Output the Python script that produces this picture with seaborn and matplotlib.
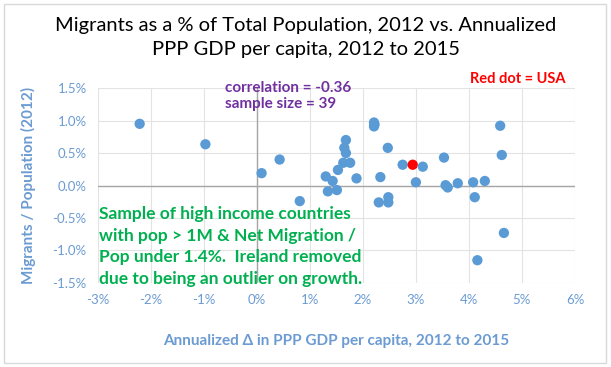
import pandas as pd
import seaborn as sns
import matplotlib.pyplot as plt
from matplotlib.patches import Rectangle
from matplotlib.ticker import FuncFormatter

# Annualized change in PPP GDP per capita 2012-2015 (%) and migrants / population 2012 (%)
gdp_growth = [-2.21, -0.97, 0.09, 0.43, 0.81,
              1.30, 1.34, 1.43, 1.51, 1.53, 1.63, 1.65, 1.68, 1.68, 1.76, 1.88,
              2.21, 2.21, 2.22, 2.33, 2.30, 2.47, 2.48, 2.48, 2.75, 2.94, 3.00, 3.13,
              3.53, 3.56, 3.60, 3.79, 4.08, 4.11, 4.30, 4.59, 4.62, 4.66, 4.16]
migrants = [0.95, 0.635, 0.19, 0.40, -0.24,
            0.14, -0.09, 0.07, -0.07, 0.24, 0.35, 0.58, 0.70, 0.50, 0.35, 0.11,
            0.97, 0.91, 0.94, 0.13, -0.26, 0.58, -0.18, -0.26, 0.32, 0.32, 0.05, 0.29,
            0.43, 0.005, -0.03, 0.035, 0.05, -0.18, 0.07, 0.92, 0.47, -0.73, -1.15]
usa_index = 25

x_ticks = [-3, -2, -1, 0, 1, 2, 3, 4, 5, 6]
y_ticks = [-1.5, -1.0, -0.5, 0.0, 0.5, 1.0, 1.5]

df = pd.DataFrame({"growth": gdp_growth, "migrants": migrants})
df["group"] = "other"
df.loc[usa_index, "group"] = "USA"

sns.set_style("white")
plt.rcParams["font.family"] = ["Lato", "DejaVu Sans"]

blue = "#5B9BD5"
label_blue = "#6B9BD2"

fig = plt.figure(figsize=(6.11, 3.67), dpi=100)
ax = fig.add_axes([0.160, 0.229, 0.781, 0.531])

sns.scatterplot(data=df, x="growth", y="migrants", hue="group",
                palette={"other": blue, "USA": "#FF0000"},
                s=55, edgecolor="none", legend=False, ax=ax, zorder=3)

ax.set_xlim(-3, 6)
ax.set_ylim(-1.5, 1.5)
ax.set_xticks(x_ticks)
ax.set_yticks(y_ticks)
ax.xaxis.set_major_formatter(FuncFormatter(lambda v, p: f"{v:.0f}%"))
ax.yaxis.set_major_formatter(FuncFormatter(lambda v, p: f"{v:.1f}%"))
ax.tick_params(axis="both", length=0, labelsize=9.5, labelcolor=label_blue, pad=8)
ax.grid(True, color="#E3E3E3", linewidth=0.8)
ax.axhline(0, color="#A6A6A6", linewidth=1, zorder=2)
ax.axvline(0, color="#A6A6A6", linewidth=1, zorder=2)
for s in ax.spines.values():
    s.set_visible(False)

ax.set_xlabel("Annualized Δ in PPP GDP per capita, 2012 to 2015",
              fontsize=11, fontweight="bold", color=label_blue, labelpad=20)
ax.set_ylabel("Migrants / Population (2012)",
              fontsize=11, fontweight="bold", color=label_blue, labelpad=12)

fig.text(0.5, 0.898, "Migrants as a % of Total Population, 2012 vs. Annualized\nPPP GDP per capita, 2012 to 2015",
         ha="center", va="center", fontsize=14.5, linespacing=1.45, color="black")

fig.text(0.368, 0.738, "correlation = -0.36\nsample size = 39", ha="left", va="center",
         fontsize=11, fontweight="bold", color="#7030A0", linespacing=1.15)
fig.text(0.769, 0.785, "Red dot = USA", ha="left", va="center",
         fontsize=10.5, fontweight="bold", color="#FF0000")
fig.text(0.162, 0.328,
         "Sample of high income countries\nwith pop > 1M & Net Migration /\nPop under 1.4%.  Ireland removed\ndue to being an outlier on growth.",
         ha="left", va="center", fontsize=12.5, fontweight="bold", color="#00B050", linespacing=1.42)

fig.patches.append(Rectangle((0.006, 0.01), 0.985, 0.98, transform=fig.transFigure,
                             fill=False, edgecolor="#D9D9D9", linewidth=1))

fig.savefig("out.png", dpi=100)
